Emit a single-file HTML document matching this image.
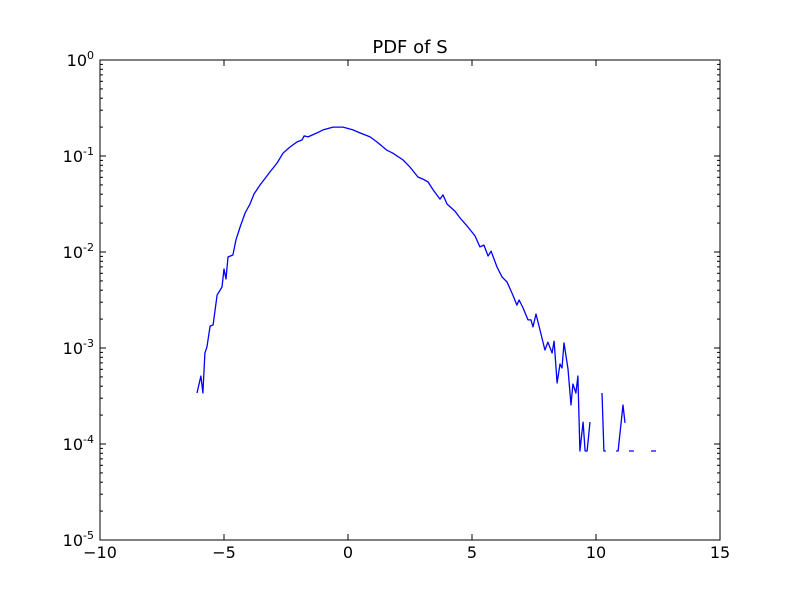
<!DOCTYPE html>
<html><head><meta charset="utf-8"><style>
body{margin:0;background:#fff;}
svg{font-family:"DejaVu Sans","Liberation Sans",sans-serif;}
</style></head><body>
<svg id="chart" width="800" height="600">
<rect x="0" y="0" width="800" height="600" fill="#fff"/>
<text x="410" y="53" font-size="18" text-anchor="middle">PDF of S</text>
<g id="plot"></g>
<rect x="100" y="60" width="620" height="480" fill="none" stroke="#000" stroke-width="1"/>
</svg>
<script>
const xs=[-6.09,-5.93,-5.85,-5.77,-5.69,-5.56,-5.44,-5.28,-5.08,-5.00,-4.92,-4.84,-4.64,-4.52,-4.35,-4.15,-3.95,-3.79,-3.55,-3.27,-3.15,-2.86,-2.62,-2.34,-2.06,-1.85,-1.77,-1.61,-1.25,-1.01,-0.60,-0.20,0.20,0.48,0.89,1.17,1.57,1.81,2.22,2.50,2.82,3.02,3.23,3.43,3.71,3.83,3.99,4.31,4.52,4.80,5.12,5.32,5.48,5.65,5.77,6.01,6.21,6.41,6.65,6.81,6.90,7.06,7.26,7.38,7.46,7.58,7.74,7.94,8.06,8.23,8.31,8.43,8.55,8.63,8.71,8.87,8.99,9.07,9.19,9.27,9.35,9.48,9.56,9.64,9.76,10.0,10.24,10.32,10.40,10.6,10.81,10.89,11.09,11.17,11.25,11.33,11.53,11.9,12.22,12.42];
const ys=[3.40e-4,5.11e-4,3.40e-4,8.87e-4,1.02e-3,1.69e-3,1.74e-3,3.56e-3,4.32e-3,6.65e-3,5.23e-3,8.87e-3,9.31e-3,1.33e-2,1.82e-2,2.55e-2,3.16e-2,4.02e-2,4.99e-2,6.19e-2,6.81e-2,8.46e-2,0.107,0.124,0.140,0.147,0.162,0.158,0.174,0.187,0.200,0.200,0.187,0.174,0.158,0.140,0.115,0.107,9.08e-2,7.67e-2,6.04e-2,5.75e-2,5.36e-2,4.43e-2,3.56e-2,3.93e-2,3.16e-2,2.67e-2,2.26e-2,1.87e-2,1.47e-2,1.13e-2,1.18e-2,9.08e-3,1.02e-2,6.98e-3,5.50e-3,4.87e-3,3.56e-3,2.80e-3,3.16e-3,2.61e-3,1.96e-3,1.96e-3,1.66e-3,2.26e-3,1.54e-3,9.53e-4,1.15e-3,8.87e-4,1.18e-3,4.32e-4,6.81e-4,6.19e-4,1.13e-3,6.04e-4,2.55e-4,4.22e-4,3.40e-4,5.11e-4,8.45e-5,1.69e-4,8.45e-5,8.45e-5,1.69e-4,null,3.40e-4,8.45e-5,8.45e-5,null,8.45e-5,8.45e-5,2.55e-4,1.66e-4,null,8.45e-5,8.45e-5,null,8.45e-5,8.45e-5];
const xTicks=[-10,-5,0,5,10,15];
const xTickLabels=["\u221210","\u22125","0","5","10","15"];
const yExps=[0,-1,-2,-3,-4,-5];
const yTickLabels=["0","-1","-2","-3","-4","-5"];

const X0=100,X1=720,Y0=60,Y1=540;
function sx(v){return X0+(v+10)/25*(X1-X0);}
function sy(v){return Y0+(0-Math.log10(v))/5*(Y1-Y0);}
const NS="http://www.w3.org/2000/svg";
const g=document.getElementById('plot');
function mk(t,a){const e=document.createElementNS(NS,t);for(const k in a)e.setAttribute(k,a[k]);g.appendChild(e);return e;}

let d="",pen=false;
for(let i=0;i<xs.length;i++){
  if(ys[i]===null){pen=false;continue;}
  d+=(pen?"L":"M")+sx(xs[i]).toFixed(1)+" "+sy(ys[i]).toFixed(1)+" ";pen=true;
}
const line=mk('path',{d:d,fill:'none',stroke:'#0000ff','stroke-width':1.3,'stroke-linejoin':'round'});



xTicks.forEach((v,i)=>{
  const x=sx(v);
  const t1=mk('line',{x1:x,y1:Y1,x2:x,y2:Y1-6,stroke:'#000'});
  
  
  const t2=mk('line',{x1:x,y1:Y0,x2:x,y2:Y0+6,stroke:'#000'});
  
  
  const tx=mk('text',{x:x,y:Y1+18,'font-size':16,'text-anchor':'middle'});
  tx.textContent=xTickLabels[i];
  
  
});
yExps.forEach((e,i)=>{
  const y=sy(Math.pow(10,e));
  const t1=mk('line',{x1:X0,y1:y,x2:X0+6,y2:y,stroke:'#000'});
  
  
  const t2=mk('line',{x1:X1,y1:y,x2:X1-6,y2:y,stroke:'#000'});
  
  
  if(e>-5){for(let m=2;m<10;m++){const yy=sy(m*Math.pow(10,e-1));
    const a=mk('line',{x1:X0,y1:yy,x2:X0+3,y2:yy,stroke:'#000'});
    
    
    const b=mk('line',{x1:X1,y1:yy,x2:X1-3,y2:yy,stroke:'#000'});
    
    }}
  const tx=mk('text',{x:X0-6,y:y+6,'font-size':16,'text-anchor':'end'});
  
  
  const exp=yTickLabels[i];
  tx.innerHTML='10<tspan dy="-7" font-size="11">'+exp+'</tspan>';
});
</script>
</body></html>
